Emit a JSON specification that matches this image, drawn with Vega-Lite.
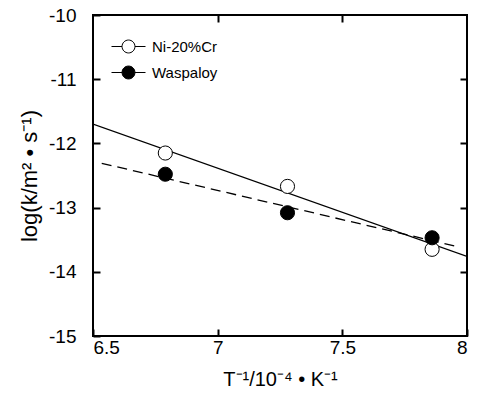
{
  "$schema": "https://vega.github.io/schema/vega-lite/v6.json",
  "autosize": {"type": "none"},
  "width": 374,
  "height": 321,
  "padding": {"left": 93, "top": 15, "right": 11, "bottom": 58},
  "background": "white",
  "config": {
    "font": "Liberation Sans",
    "view": {"stroke": "black", "strokeWidth": 2},
    "axis": {
      "domain": false, "ticks": true,
      "tickColor": "black", "tickWidth": 2, "tickSize": 7, "offset": -7, "tickOpacity": 1,
      "labelColor": "black", "labelFont": "Liberation Sans", "labelFontSize": 19,
      "titleColor": "black", "titleFont": "Liberation Sans", "titleFontSize": 20, "titleFontWeight": "normal",
      "grid": false, "zindex": 5
    }
  },
  "datasets": {
    "pts": [
      {"x": 6.79, "y": -12.15, "alloy": "Ni-20%Cr"},
      {"x": 7.28, "y": -12.67, "alloy": "Ni-20%Cr"},
      {"x": 7.86, "y": -13.65, "alloy": "Ni-20%Cr"},
      {"x": 6.79, "y": -12.48, "alloy": "Waspaloy"},
      {"x": 7.28, "y": -13.08, "alloy": "Waspaloy"},
      {"x": 7.86, "y": -13.47, "alloy": "Waspaloy"}
    ],
    "solid": [
      {"x": 6.5, "y": -11.70},
      {"x": 8.0, "y": -13.76}
    ],
    "dashed": [
      {"x": 6.535, "y": -12.31},
      {"x": 7.965, "y": -13.61}
    ]
  },
  "layer": [
    {
      "data": {"name": "solid"},
      "mark": {"type": "line", "color": "black", "strokeWidth": 1.3, "clip": true},
      "encoding": {
        "x": {"field": "x", "type": "quantitative", "scale": {"domain": [6.5, 8], "nice": false, "zero": false},
              "axis": {"values": [6.5, 7, 7.5, 8], "labelExpr": "datum.value + ''", "title": "T⁻¹/10⁻⁴ • K⁻¹", "labelPadding": 2, "titlePadding": 12}},
        "y": {"field": "y", "type": "quantitative", "scale": {"domain": [-15, -10], "nice": false, "zero": false},
              "axis": {"values": [-15, -14, -13, -12, -11, -10], "labelExpr": "datum.value + ''", "title": "log(k/m² • s⁻¹)", "labelPadding": 17, "titlePadding": 7, "titleFontSize": 22}}
      }
    },
    {
      "data": {"name": "dashed"},
      "mark": {"type": "line", "color": "black", "strokeWidth": 1.3, "strokeDash": [10, 6]},
      "encoding": {
        "x": {"field": "x", "type": "quantitative", "axis": null},
        "y": {"field": "y", "type": "quantitative", "axis": null}
      }
    },
    {
      "data": {"name": "pts"},
      "mark": {"type": "point", "shape": "circle", "size": 200, "stroke": "black", "strokeWidth": 1, "opacity": 1, "filled": true},
      "encoding": {
        "x": {"field": "x", "type": "quantitative", "axis": {"orient": "top", "labels": false, "title": null, "values": [7, 7.5]}},
        "y": {"field": "y", "type": "quantitative", "axis": {"orient": "right", "labels": false, "title": null, "values": [-14, -13, -12, -11]}},
        "fill": {
          "field": "alloy", "type": "nominal",
          "scale": {"domain": ["Ni-20%Cr", "Waspaloy"], "range": ["white", "black"]},
          "legend": {
            "title": null, "orient": "none", "legendX": 18, "legendY": 14, "padding": 0,
            "symbolType": "M-1,0H-0.38M0.38,0H1M0.38,0A0.38,0.38 0 1,1 -0.38,0A0.38,0.38 0 1,1 0.38,0Z",
            "symbolSize": 1156, "symbolStrokeColor": "black", "symbolStrokeWidth": 1,
            "labelFont": "Liberation Sans", "labelFontSize": 15, "labelColor": "black", "labelOffset": 6,
            "rowPadding": -9
          }
        }
      }
    }
  ],
  "resolve": {"axis": {"x": "independent", "y": "independent"}}
}
